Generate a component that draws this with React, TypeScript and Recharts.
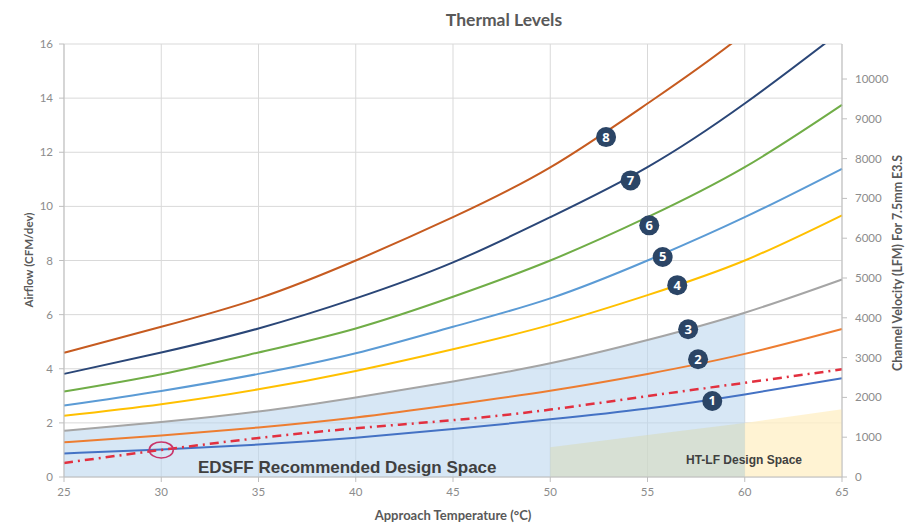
import type { JSX } from "react";
import {
  ComposedChart,
  Line,
  Area,
  XAxis,
  YAxis,
  CartesianGrid,
  ReferenceDot,
} from "recharts";

// approach temperature (°C)
const temps = [25, 30, 35, 40, 45, 50, 55, 60, 65];

// airflow (CFM/dev) per thermal level
const level1 = [0.87, 1.02, 1.2, 1.45, 1.77, 2.13, 2.53, 3.05, 3.65];
const level2 = [1.28, 1.53, 1.83, 2.2, 2.67, 3.19, 3.81, 4.55, 5.47];
const level3 = [1.71, 2.03, 2.42, 2.94, 3.53, 4.2, 5.06, 6.07, 7.3];
const level4 = [2.26, 2.69, 3.24, 3.92, 4.72, 5.62, 6.72, 8.0, 9.67];
const level5 = [2.64, 3.18, 3.81, 4.57, 5.55, 6.6, 8.0, 9.6, 11.39];
const level6 = [3.16, 3.8, 4.6, 5.49, 6.66, 8.0, 9.6, 11.45, 13.75];
const level7 = [3.81, 4.6, 5.49, 6.6, 7.93, 9.6, 11.45, 13.8, 16.5];
const level8 = [4.59, 5.55, 6.6, 8.0, 9.6, 11.44, 13.8, 16.4, 19.6];
const levels = [level1, level2, level3, level4, level5, level6, level7, level8];
const levelColors = [
  "#4472C4",
  "#ED7D31",
  "#A5A5A5",
  "#FFC000",
  "#5B9BD5",
  "#70AD47",
  "#2A4677",
  "#C65B20",
];

// red dash-dot limit line
const designLimit = [0.52, 1.0, 1.44, 1.8, 2.1, 2.49, 2.99, 3.48, 3.98];

// top edge of the HT-LF design space (null where it doesn't exist)
const htlfTop = [null, null, null, null, null, 1.1, 1.55, 2.0, 2.5];
const edsffMaxTemp = 60;

const airflowTicks = [0, 2, 4, 6, 8, 10, 12, 14, 16];
const velocityTicks = [0, 1000, 2000, 3000, 4000, 5000, 6000, 7000, 8000, 9000, 10000];

// where the numbered badges sit (temperature, airflow)
const badgeTemps = [58.33, 57.6, 57.09, 56.53, 55.78, 55.09, 54.13, 52.87];
const badgeValues = [2.81, 4.35, 5.46, 7.09, 8.13, 9.3, 10.96, 12.56];

// recommended operating point circled on the chart
const markerTemp = 30;
const markerValue = 1.0;

const rows = temps.map((t, i) => {
  const row: Record<string, number | null> = { t, limit: designLimit[i] };
  levels.forEach((lv, k) => {
    row[`l${k + 1}`] = lv[i];
  });
  row.edsff = t <= edsffMaxTemp ? level3[i] : null;
  row.htlfShared = t <= edsffMaxTemp ? htlfTop[i] : null;
  row.htlfOnly = t >= edsffMaxTemp ? htlfTop[i] : null;
  return row;
});

const tickStyle = { fill: "#8C8C8C", fontSize: 11.5, fontFamily: "Lato" };
const axisColor = "#BFBFBF";
const labelFont = "Lato, 'Open Sans', sans-serif";

function Badge(props: any): JSX.Element {
  const { cx, cy, n } = props;
  return (
    <g>
      <circle cx={cx} cy={cy} r={10} fill="#2B4566" />
      <text
        x={cx}
        y={cy + 4.5}
        textAnchor="middle"
        fill="#fff"
        fontSize={13}
        fontWeight={700}
        fontFamily="'Open Sans', sans-serif"
      >
        {n}
      </text>
    </g>
  );
}

function Ring(props: any): JSX.Element {
  const { cx, cy } = props;
  return <ellipse cx={cx} cy={cy} rx={12} ry={8} fill="none" stroke="#C9356A" strokeWidth={1.6} />;
}

export default function App() {
  return (
    <div style={{ position: "absolute", left: 0, top: 0, width: 908, height: 523, background: "#fff" }}>
      <ComposedChart
        width={908}
        height={523}
        data={rows}
        margin={{ top: 44, right: 16, bottom: 16, left: 24 }}
      >
        <CartesianGrid stroke="#D9D9D9" />
        <XAxis
          dataKey="t"
          type="number"
          domain={[25, 65]}
          ticks={temps}
          height={30}
          tick={tickStyle}
          tickSize={5}
          tickMargin={6}
          axisLine={{ stroke: axisColor }}
          tickLine={{ stroke: axisColor }}
        />
        <YAxis
          type="number"
          domain={[0, 16]}
          ticks={airflowTicks}
          allowDataOverflow
          width={40}
          tick={tickStyle}
          tickSize={5}
          tickMargin={6}
          axisLine={{ stroke: axisColor }}
          tickLine={{ stroke: axisColor }}
        />
        <YAxis
          yAxisId="right"
          orientation="right"
          type="number"
          domain={[0, 10880]}
          ticks={velocityTicks}
          allowDataOverflow
          width={50}
          tick={tickStyle}
          tickSize={5}
          tickMargin={8}
          axisLine={{ stroke: axisColor }}
          tickLine={{ stroke: axisColor }}
        />
        <Area
          dataKey="edsff"
          type="natural"
          stroke="none"
          fill="#BDD7EE"
          fillOpacity={0.6}
          isAnimationActive={false}
        />
        <Area
          dataKey="htlfShared"
          type="linear"
          stroke="none"
          fill="#D8D9B4"
          fillOpacity={0.5}
          isAnimationActive={false}
        />
        <Area
          dataKey="htlfOnly"
          type="linear"
          stroke="none"
          fill="#FFF0C8"
          fillOpacity={0.8}
          isAnimationActive={false}
        />
        {levels.map((_, k) => (
          <Line
            key={k}
            dataKey={`l${k + 1}`}
            type="natural"
            stroke={levelColors[k]}
            strokeWidth={2}
            dot={false}
            isAnimationActive={false}
          />
        ))}
        <Line
          dataKey="limit"
          type="natural"
          stroke="#E2303F"
          strokeWidth={2.5}
          strokeDasharray="9 5 2 5"
          dot={false}
          isAnimationActive={false}
        />
        <ReferenceDot x={markerTemp} y={markerValue} shape={(p: any) => <Ring {...p} />} />
        {badgeTemps.map((bt, i) => (
          <ReferenceDot
            key={i}
            x={bt}
            y={badgeValues[i]}
            shape={(p: any) => <Badge {...p} n={i + 1} />}
          />
        ))}
      </ComposedChart>

      <div
        style={{
          position: "absolute",
          left: 504,
          top: 19,
          transform: "translate(-50%, -50%)",
          fontFamily: labelFont,
          fontWeight: 700,
          fontSize: 17.5,
          color: "#595959",
          whiteSpace: "nowrap",
        }}
      >
        Thermal Levels
      </div>
      <div
        style={{
          position: "absolute",
          left: 28,
          top: 260,
          transform: "translate(-50%, -50%) rotate(-90deg)",
          fontFamily: labelFont,
          fontWeight: 700,
          fontSize: 11.5,
          color: "#595959",
          whiteSpace: "nowrap",
        }}
      >
        Airflow (CFM/dev)
      </div>
      <div
        style={{
          position: "absolute",
          left: 897,
          top: 263,
          transform: "translate(-50%, -50%) rotate(-90deg)",
          fontFamily: labelFont,
          fontWeight: 700,
          fontSize: 12.4,
          color: "#595959",
          whiteSpace: "nowrap",
        }}
      >
        Channel Velocity (LFM) For 7.5mm E3.S
      </div>
      <div
        style={{
          position: "absolute",
          left: 453,
          top: 515,
          transform: "translate(-50%, -50%)",
          fontFamily: labelFont,
          fontWeight: 700,
          fontSize: 13,
          color: "#595959",
          whiteSpace: "nowrap",
        }}
      >
        Approach Temperature (°C)
      </div>
      <div
        style={{
          position: "absolute",
          left: 198,
          top: 458,
          fontFamily: "'Liberation Sans', Arial, sans-serif",
          fontWeight: 700,
          fontSize: 17,
          color: "#404040",
          whiteSpace: "nowrap",
        }}
      >
        EDSFF Recommended Design Space
      </div>
      <div
        style={{
          position: "absolute",
          left: 686,
          top: 453,
          fontFamily: "'Liberation Sans', Arial, sans-serif",
          fontWeight: 700,
          fontSize: 12,
          color: "#404040",
          whiteSpace: "nowrap",
        }}
      >
        HT-LF Design Space
      </div>
    </div>
  );
}
